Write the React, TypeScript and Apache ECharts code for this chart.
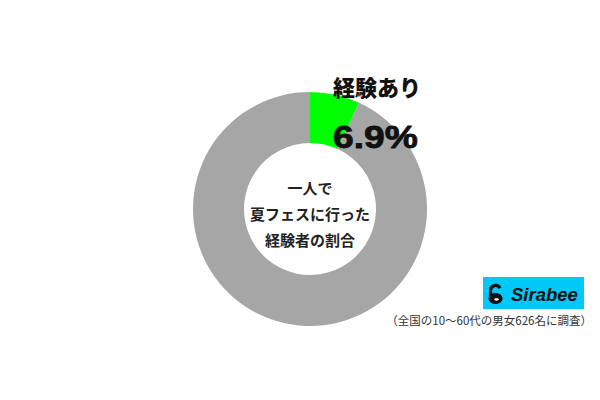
import React, { useEffect, useRef } from "react";
import * as echarts from "echarts";

const categories = ["経験あり", "経験なし"];
const values = [6.9, 93.1];
const sliceColors = ["#00ff00", "#a6a6a6"];
const centerLines = ["一人で", "夏フェスに行った", "経験者の割合"];
const brand = "Sirabee";
const note = "（全国の10〜60代の男女626名に調査）";

const JP = '"Noto Sans CJK JP", "Noto Sans", sans-serif';

export default function App() {
  const ref = useRef<HTMLDivElement>(null);

  useEffect(() => {
    if (!ref.current) return;
    const chart = echarts.init(ref.current, null, { renderer: "svg" });

    const cx = 310;
    const cy = 209;

    const textEl = (
      text: string,
      x: number,
      y: number,
      font: string,
      fill: string,
      align: string,
      extra: any = {},
      styleExtra: any = {}
    ) => ({
      type: "text",
      x,
      y,
      z: 100,
      ...extra,
      style: {
        text,
        font,
        fill,
        textAlign: align,
        textVerticalAlign: "middle",
        align,
        verticalAlign: "middle",
        ...styleExtra,
      },
    });

    const lineH = 26;
    const centerTexts = centerLines.map((t, i) =>
      textEl(
        t,
        cx,
        cy - 22 + i * lineH - (centerLines.length - 3) * lineH / 2,
        `bold 15px ${JP}`,
        "#222222",
        "center"
      )
    );

    chart.setOption({
      animation: false,
      backgroundColor: "#ffffff",
      series: [
        {
          type: "pie",
          center: [cx, cy],
          radius: [66, 117],
          startAngle: 90,
          clockwise: true,
          silent: true,
          z: 1,
          label: { show: false },
          labelLine: { show: false },
          emphasis: { disabled: true },
          itemStyle: { borderWidth: 0 },
          data: categories.map((name, i) => ({
            name,
            value: values[i],
            itemStyle: { color: sliceColors[i] },
          })),
        },
      ],
      graphic: [
        textEl(categories[0], 333, 86, `900 22px ${JP}`, "#111111", "left"),
        textEl(
          `${values[0]}%`,
          333,
          137,
          'bold 31px "Liberation Sans", Arial, sans-serif',
          "#111111",
          "left",
          { scaleX: 1.2 },
          { stroke: "#111111", lineWidth: 0.8 }
        ),
        ...centerTexts,
        {
          type: "rect",
          z: 100,
          shape: { x: 483, y: 277, width: 101, height: 32 },
          style: { fill: "#00c8f8" },
        },
        {
          type: "ellipse",
          z: 101,
          shape: { cx: 495.5, cy: 298.5, rx: 7, ry: 5.5 },
          style: { fill: "#111111" },
        },
        {
          type: "arc",
          z: 101,
          shape: {
            cx: 495.5,
            cy: 290.5,
            r: 5,
            startAngle: Math.PI,
            endAngle: Math.PI * 1.85,
            clockwise: true,
          },
          style: { stroke: "#111111", lineWidth: 3.2, fill: "none" },
        },
        {
          type: "line",
          z: 101,
          shape: { x1: 490.5, y1: 290.5, x2: 490.5, y2: 296 },
          style: { stroke: "#111111", lineWidth: 3.2 },
        },
        {
          type: "ellipse",
          z: 102,
          shape: { cx: 496.5, cy: 299.5, rx: 2.4, ry: 1.2 },
          style: { fill: "#ffffff" },
        },
        textEl(
          brand,
          511,
          294,
          'italic bold 18.5px "Liberation Sans", Arial, sans-serif',
          "#111111",
          "left",
          { z: 101 }
        ),
        textEl(note, 592, 320, `11.5px ${JP}`, "#333333", "right"),
      ],
    });

    return () => chart.dispose();
  }, []);

  return (
    <div
      ref={ref}
      style={{
        position: "absolute",
        left: 0,
        top: 0,
        width: 600,
        height: 400,
        background: "#ffffff",
      }}
    />
  );
}
